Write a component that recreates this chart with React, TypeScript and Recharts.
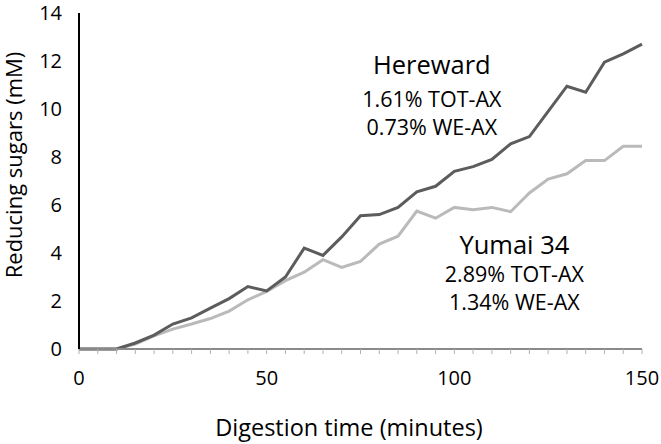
import { LineChart, Line, XAxis, YAxis, ReferenceDot } from "recharts";

const timeMinutes = [0, 5, 10, 15, 20, 25, 30, 35, 40, 45, 50, 55, 60, 65, 70, 75, 80, 85, 90, 95, 100, 105, 110, 115, 120, 125, 130, 135, 140, 145, 150];
const hereward = [0, 0, 0, 0.25, 0.58, 1.04, 1.3, 1.7, 2.1, 2.6, 2.42, 3.0, 4.2, 3.9, 4.67, 5.55, 5.6, 5.9, 6.55, 6.78, 7.4, 7.6, 7.9, 8.55, 8.85, 9.9, 10.95, 10.7, 11.95, 12.3, 12.7];
const yumai34 = [0, 0, 0, 0.2, 0.55, 0.83, 1.04, 1.27, 1.58, 2.05, 2.4, 2.85, 3.2, 3.72, 3.4, 3.65, 4.37, 4.7, 5.75, 5.45, 5.9, 5.8, 5.9, 5.72, 6.5, 7.08, 7.3, 7.85, 7.85, 8.45, 8.45];
const xLabelTicks = [0, 50, 100, 150];
const yTicks = [0, 2, 4, 6, 8, 10, 12, 14];

const noteText = ["Hereward", "1.61% TOT-AX", "0.73% WE-AX", "Yumai 34", "2.89% TOT-AX", "1.34% WE-AX"];
const noteX = [94, 94, 94, 116, 116, 116];
const noteY = [11.83, 10.42, 9.25, 4.33, 3.1, 1.94];
const noteSize = [25.5, 21.5, 21.5, 25.5, 21.5, 21.5];

const data = timeMinutes.map((t, i) => ({ t, hereward: hereward[i], yumai: yumai34[i] }));

const FONT = "'Open Sans', sans-serif";

export default function App() {
  return (
    <div style={{ position: "absolute", left: 0, top: 0, fontFamily: FONT }}>
      <LineChart width={661} height={444} data={data} margin={{ top: 13, right: 19, left: 0, bottom: 0 }}>
        <XAxis
          dataKey="t"
          type="number"
          domain={[0, 150]}
          ticks={timeMinutes}
          interval={0}
          tickFormatter={(v: number) => (xLabelTicks.includes(v) ? String(v) : "")}
          height={95}
          tickSize={5}
          tickMargin={17}
          axisLine={{ stroke: "#8a8a8a", strokeWidth: 2 }}
          tickLine={{ stroke: "#b0b0b0", strokeWidth: 1 }}
          tick={{ fill: "#000", fontSize: 20, fontFamily: FONT }}
          label={{
            content: () => (
              <text x={349} y={436} textAnchor="middle" fontSize={23.5} fontFamily={FONT} fill="#000">
                Digestion time (minutes)
              </text>
            ),
          }}
        />
        <XAxis xAxisId="top" orientation="top" type="number" domain={[0, 150]} height={0} tick={false} tickLine={false} axisLine={{ stroke: "#000", strokeWidth: 2 }} />
        <YAxis
          type="number"
          domain={[0, 14]}
          ticks={yTicks}
          width={79}
          tickSize={0}
          tickMargin={17}
          axisLine={{ stroke: "#000", strokeWidth: 2 }}
          tickLine={false}
          tick={{ fill: "#000", fontSize: 20, fontFamily: FONT }}
          label={{
            content: () => (
              <text x={22} y={165} transform="rotate(-90, 22, 165)" textAnchor="middle" fontSize={22} fontFamily={FONT} fill="#000">
                Reducing sugars (mM)
              </text>
            ),
          }}
        />
        <YAxis yAxisId="right" orientation="right" type="number" domain={[0, 14]} width={0} tick={false} tickLine={false} axisLine={{ stroke: "#000", strokeWidth: 2 }} />
        <Line dataKey="yumai" type="linear" stroke="#bababa" strokeWidth={3} dot={false} isAnimationActive={false} />
        <Line dataKey="hereward" type="linear" stroke="#5c5c5c" strokeWidth={3} dot={false} isAnimationActive={false} />
        {noteText.map((txt, i) => (
          <ReferenceDot
            key={txt + i}
            x={noteX[i]}
            y={noteY[i]}
            r={0}
            stroke="none"
            label={{ value: txt, position: "center", fill: "#000", fontSize: noteSize[i], fontFamily: FONT }}
          />
        ))}
      </LineChart>
    </div>
  );
}
